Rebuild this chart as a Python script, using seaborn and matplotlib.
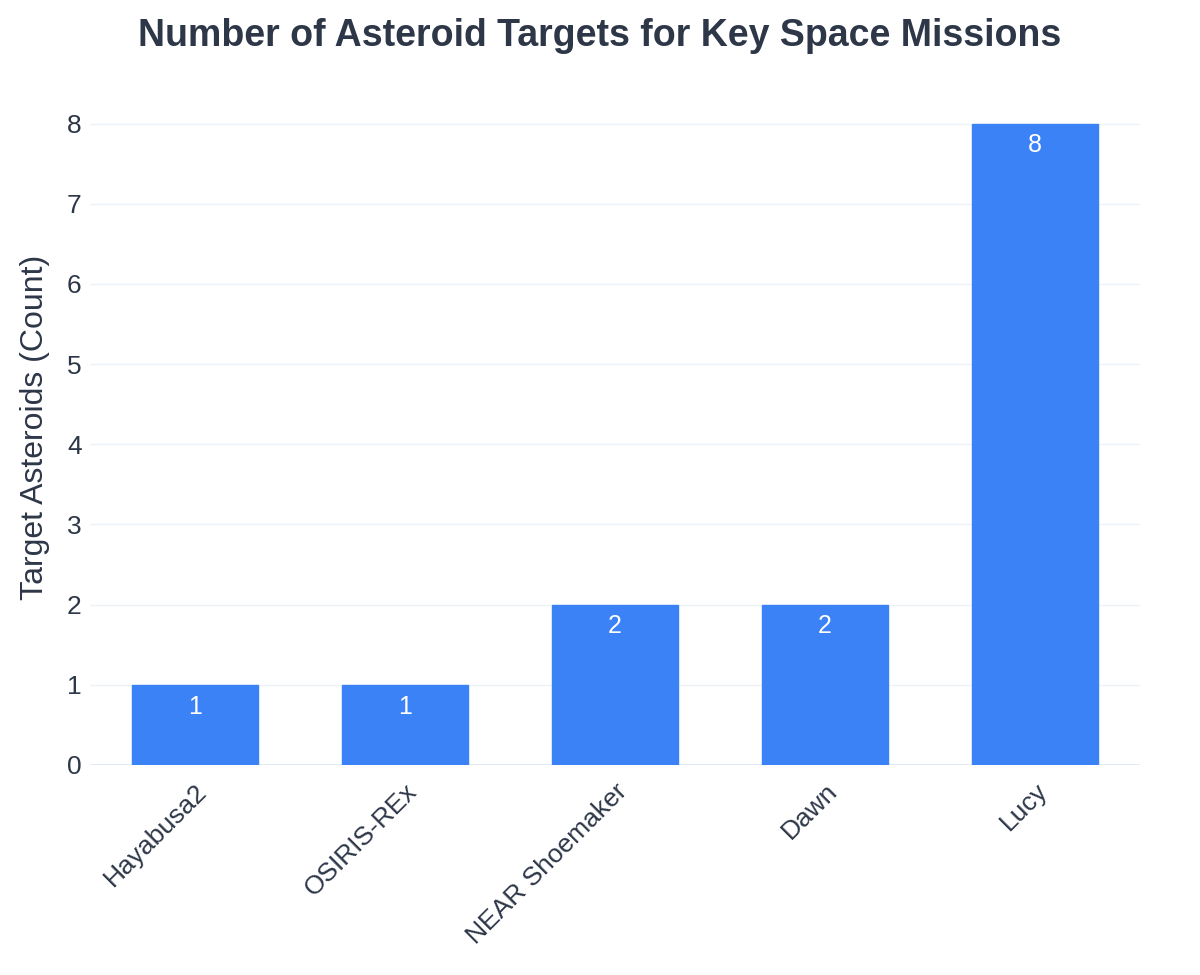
import matplotlib
matplotlib.use("Agg")
import matplotlib.pyplot as plt
import seaborn as sns
import pandas as pd

missions = ["Hayabusa2", "OSIRIS-REx", "NEAR Shoemaker", "Dawn", "Lucy"]
targets = [1, 1, 2, 2, 8]
yticks = [0, 1, 2, 3, 4, 5, 6, 7, 8]

sns.set_theme(style="white")
plt.rcParams["font.family"] = ["Liberation Sans", "DejaVu Sans"]

df = pd.DataFrame({"Mission": missions, "Targets": targets})

fig = plt.figure(figsize=(12, 9.75), dpi=100)
ax = fig.add_axes([0.075, 0.2154, 0.875, 0.6923])

sns.barplot(data=df, x="Mission", y="Targets", color="#3B82F6", width=0.6,
            saturation=1, ax=ax, zorder=3)
for p in ax.patches:
    p.set_edgecolor("#3B82F6")

ax.set_ylim(0, 8.42)
ax.set_xlim(-0.5, len(missions) - 0.5)
ax.set_yticks(yticks)
ax.set_yticklabels([str(t) for t in yticks], fontsize=19, color="#2D3748")
ax.grid(axis="y", color="#EDF2F7", linewidth=1, zorder=0)
ax.axhline(0, color="#E2E8F0", linewidth=2, zorder=2)
for s in ax.spines.values():
    s.set_visible(False)
ax.tick_params(axis="y", length=0, pad=6)
ax.tick_params(axis="x", length=0, pad=10)

ax.set_xticks(range(len(missions)))
ax.set_xticklabels(missions, rotation=45, ha="right", rotation_mode="anchor",
                   fontsize=19, color="#2D3748")
ax.set_xlabel("")
ax.set_ylabel("Target Asteroids (Count)", fontsize=23, color="#2D3748", labelpad=12)

for i, v in enumerate(targets):
    ax.annotate(str(v), (i, v), xytext=(0, -7), textcoords="offset points",
                ha="center", va="top", color="white", fontsize=18, zorder=4)

fig.suptitle("Number of Asteroid Targets for Key Space Missions", x=0.5, y=0.982,
             fontsize=27, fontweight="bold", color="#2D3748", va="top")

fig.savefig("out.png", dpi=100, facecolor="white")
